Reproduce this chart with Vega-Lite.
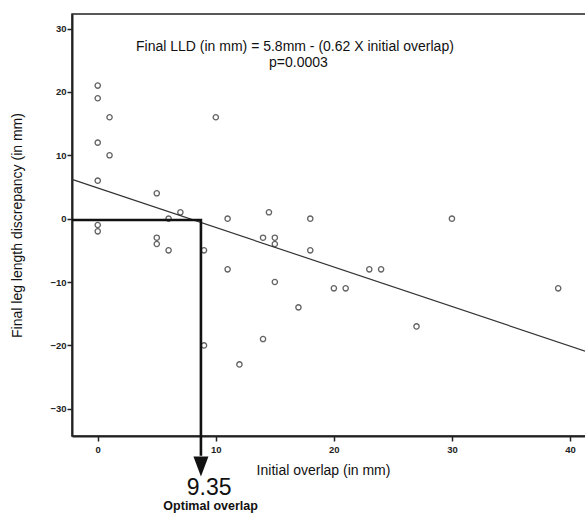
{
  "$schema": "https://vega.github.io/schema/vega-lite/v6.json",
  "autosize": "none",
  "width": 515,
  "height": 422,
  "padding": {"left": 72, "top": 14, "right": 0, "bottom": 77},
  "background": "white",
  "config": {
    "font": "Liberation Sans",
    "view": {"stroke": "#222", "strokeWidth": 1.5}
  },
  "datasets": {
    "pts": [
      {"overlap": 0, "lld": 21}, {"overlap": 0, "lld": 19}, {"overlap": 0, "lld": 12}, {"overlap": 0, "lld": 6},
      {"overlap": 0, "lld": -1}, {"overlap": 0, "lld": -2},
      {"overlap": 1, "lld": 16}, {"overlap": 1, "lld": 10},
      {"overlap": 10, "lld": 16},
      {"overlap": 5, "lld": 4}, {"overlap": 5, "lld": -3}, {"overlap": 5, "lld": -4},
      {"overlap": 7, "lld": 1},
      {"overlap": 6, "lld": 0}, {"overlap": 6, "lld": -5},
      {"overlap": 11, "lld": 0}, {"overlap": 11, "lld": -8},
      {"overlap": 14.5, "lld": 1},
      {"overlap": 14, "lld": -3}, {"overlap": 14, "lld": -19},
      {"overlap": 15, "lld": -3}, {"overlap": 15, "lld": -4}, {"overlap": 15, "lld": -10},
      {"overlap": 9, "lld": -5}, {"overlap": 9, "lld": -20},
      {"overlap": 17, "lld": -14},
      {"overlap": 12, "lld": -23},
      {"overlap": 18, "lld": 0}, {"overlap": 18, "lld": -5},
      {"overlap": 23, "lld": -8}, {"overlap": 24, "lld": -8},
      {"overlap": 20, "lld": -11}, {"overlap": 21, "lld": -11},
      {"overlap": 27, "lld": -17},
      {"overlap": 39, "lld": -11},
      {"overlap": 30, "lld": 0}
    ],
    "fit": [
      {"overlap": -2.18, "lld": 6.2},
      {"overlap": 41.44, "lld": -21.0}
    ],
    "guide": [
      {"overlap": -2.18, "lld": -0.2, "o": 1},
      {"overlap": 8.74, "lld": -0.2, "o": 2},
      {"overlap": 8.74, "lld": -37.4, "o": 3}
    ],
    "arrow": [{"overlap": 8.74, "lld": -39.1}],
    "labels": [
      {"overlap": 16.7, "lld": 27.05, "t": "Final LLD (in mm) = 5.8mm - (0.62 X initial overlap)"},
      {"overlap": 17.0, "lld": 24.55, "t": "p=0.0003"}
    ],
    "big": [{"overlap": 9.43, "lld": -43.67, "t": "9.35"}],
    "sub": [{"overlap": 9.56, "lld": -45.95, "t": "Optimal overlap"}]
  },
  "layer": [
    {
      "data": {"name": "pts"},
      "mark": {"type": "point", "shape": "circle", "filled": false, "color": "#222", "size": 28, "strokeWidth": 1.3},
      "encoding": {
        "x": {
          "field": "overlap", "type": "quantitative",
          "scale": {"domain": [-2.18, 41.44], "nice": false, "zero": false},
          "axis": {
            "values": [0, 10, 20, 30, 40], "grid": false, "title": "Initial overlap (in mm)",
            "titleFont": "Liberation Sans", "titleFontSize": 14, "titleFontWeight": "normal", "titleColor": "#111",
            "titlePadding": 10, "titleX": 251,
            "labelFontSize": 9.5, "labelFontWeight": "bold", "labelColor": "#222", "labelPadding": 3,
            "domainColor": "#222", "domainWidth": 2, "tickColor": "#222", "tickWidth": 1.5, "tickSize": 5
          }
        },
        "y": {
          "field": "lld", "type": "quantitative",
          "scale": {"domain": [-34.3, 32.3], "nice": false, "zero": false},
          "axis": {
            "values": [-30, -20, -10, 0, 10, 20, 30], "grid": false, "title": "Final leg length discrepancy (in mm)",
            "titleFont": "Liberation Sans", "titleFontSize": 14, "titleFontWeight": "normal", "titleColor": "#111",
            "titlePadding": 25,
            "labelFontSize": 9.5, "labelFontWeight": "bold", "labelColor": "#222", "labelPadding": 1,
            "domainColor": "#222", "domainWidth": 2, "tickColor": "#222", "tickWidth": 1.5, "tickSize": 5
          }
        }
      }
    },
    {
      "data": {"name": "fit"},
      "mark": {"type": "line", "color": "#333", "strokeWidth": 1.2},
      "encoding": {
        "x": {"field": "overlap", "type": "quantitative"},
        "y": {"field": "lld", "type": "quantitative"}
      }
    },
    {
      "data": {"name": "guide"},
      "mark": {"type": "line", "color": "#111", "strokeWidth": 2.6, "clip": false},
      "encoding": {
        "x": {"field": "overlap", "type": "quantitative"},
        "y": {"field": "lld", "type": "quantitative"},
        "order": {"field": "o"}
      }
    },
    {
      "data": {"name": "arrow"},
      "mark": {"type": "point", "shape": "M-0.75,-1L0.75,-1L0,1Z", "filled": true, "color": "#111", "size": 400, "opacity": 1, "clip": false},
      "encoding": {
        "x": {"field": "overlap", "type": "quantitative"},
        "y": {"field": "lld", "type": "quantitative"}
      }
    },
    {
      "data": {"name": "labels"},
      "mark": {"type": "text", "color": "#111", "fontSize": 14, "align": "center", "baseline": "middle", "clip": false},
      "encoding": {
        "x": {"field": "overlap", "type": "quantitative"},
        "y": {"field": "lld", "type": "quantitative"},
        "text": {"field": "t"}
      }
    },
    {
      "data": {"name": "big"},
      "mark": {"type": "text", "color": "#111", "fontSize": 23, "align": "center", "baseline": "alphabetic", "clip": false},
      "encoding": {
        "x": {"field": "overlap", "type": "quantitative"},
        "y": {"field": "lld", "type": "quantitative"},
        "text": {"field": "t"}
      }
    },
    {
      "data": {"name": "sub"},
      "mark": {"type": "text", "color": "#111", "fontSize": 12.5, "fontWeight": "bold", "align": "center", "baseline": "alphabetic", "clip": false},
      "encoding": {
        "x": {"field": "overlap", "type": "quantitative"},
        "y": {"field": "lld", "type": "quantitative"},
        "text": {"field": "t"}
      }
    }
  ]
}
